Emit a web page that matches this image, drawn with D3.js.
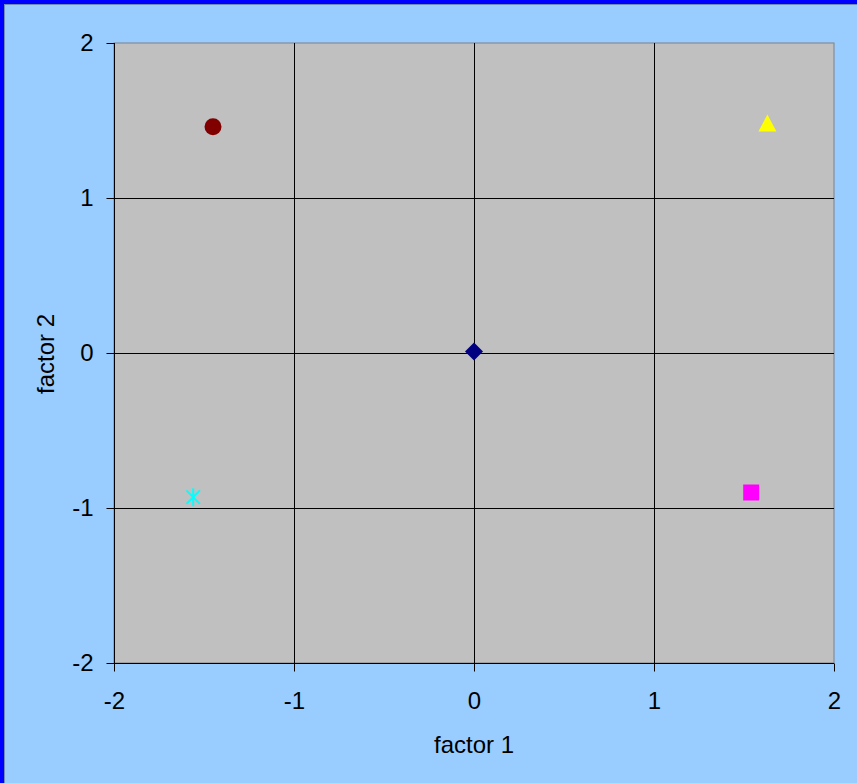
<!DOCTYPE html>
<html>
<head>
<meta charset="utf-8">
<script src="https://cdn.jsdelivr.net/npm/d3@7"></script>
<style>
html,body{margin:0;padding:0;background:#99CCFF;}
svg{display:block;}
text{font-family:"Liberation Sans",Arial,sans-serif;fill:#000;}
</style>
</head>
<body>
<script>
const names = ["center", "A", "B", "C", "D"];
const factor1 = [0, -1.45, 1.63, -1.56, 1.54];
const factor2 = [0.01, 1.46, 1.48, -0.93, -0.90];
const shapes = ["diamond", "circle", "triangle", "star", "square"];
const colors = ["#000080", "#800000", "#FFFF00", "#00FFFF", "#FF00FF"];
const xTicks = [-2, -1, 0, 1, 2];
const yTicks = [-2, -1, 0, 1, 2];

const W = 857, H = 783;
const FS = 24;
const svg = d3.select("body").append("svg").attr("width", W).attr("height", H);
svg.append("rect").attr("width", W).attr("height", H).attr("fill", "#99CCFF");
// frame on left & top
svg.append("rect").attr("x", 0).attr("y", 0).attr("width", 4).attr("height", H).attr("fill", "#0000FF");
svg.append("rect").attr("x", 0).attr("y", 0).attr("width", W).attr("height", 4).attr("fill", "#0000FF");
svg.append("line").attr("x1", 4.5).attr("x2", 4.5).attr("y1", 4).attr("y2", H).attr("stroke", "#6f8fb0").attr("stroke-width", 1);
svg.append("line").attr("x1", 4).attr("x2", W).attr("y1", 4.5).attr("y2", 4.5).attr("stroke", "#6f8fb0").attr("stroke-width", 1);

const L = 114, R = 834, T = 43, B = 663;
const x = d3.scaleLinear().domain([-2, 2]).range([L, R]);
const y = d3.scaleLinear().domain([-2, 2]).range([B, T]);

svg.append("rect").attr("x", L).attr("y", T).attr("width", R - L).attr("height", B - T)
  .attr("fill", "#C0C0C0").attr("stroke", "#808080").attr("stroke-width", 1);

// gridlines
svg.append("g").selectAll("line").data(xTicks.filter(d => d > -2 && d < 2)).join("line")
  .attr("x1", d => Math.round(x(d)) + 0.5).attr("x2", d => Math.round(x(d)) + 0.5)
  .attr("y1", T).attr("y2", B).attr("stroke", "#000").attr("stroke-width", 1);
svg.append("g").selectAll("line").data(yTicks.filter(d => d > -2 && d < 2)).join("line")
  .attr("y1", d => Math.round(y(d)) + 0.5).attr("y2", d => Math.round(y(d)) + 0.5)
  .attr("x1", L).attr("x2", R).attr("stroke", "#000").attr("stroke-width", 1);

// axes
const fmt = d => String(d);
const xAxis = d3.axisBottom(x).tickValues(xTicks).tickSize(8).tickPadding(20).tickFormat(fmt);
const yAxis = d3.axisLeft(y).tickValues(yTicks).tickSize(8).tickPadding(13).tickFormat(fmt);
const gx = svg.append("g").attr("transform", `translate(0,${B + 0.5})`).call(xAxis);
const gy = svg.append("g").attr("transform", `translate(${L + 0.5},0)`).call(yAxis);
[gx, gy].forEach(g => {
  g.select(".domain").attr("stroke", "#000").attr("stroke-width", 1);
  g.selectAll(".tick line").attr("stroke", "#000");
  g.selectAll(".tick text").attr("font-size", FS).attr("font-family", "'Liberation Sans',Arial,sans-serif").attr("fill", "#000");
});
gx.select(".domain").attr("d", `M${L},0H${R}`);
gy.select(".domain").attr("d", `M0,${T}V${B}`);
gx.selectAll(".tick line").attr("y1", 0);
gy.selectAll(".tick line").attr("x1", 0);

svg.append("text").attr("x", 474).attr("y", 753).attr("text-anchor", "middle")
  .attr("font-size", FS).text("factor 1");
svg.append("text").attr("transform", `translate(54,${354}) rotate(-90)`).attr("text-anchor", "middle")
  .attr("font-size", FS).text("factor 2");

// markers
const pts = names.map((n, i) => ({n, x: factor1[i], y: factor2[i], s: shapes[i], c: colors[i]}));
const g = svg.append("g");
pts.forEach(p => {
  const cx = x(p.x), cy = y(p.y);
  if (p.s === "diamond") {
    g.append("path").attr("d", `M${cx},${cy - 9}L${cx + 9},${cy}L${cx},${cy + 9}L${cx - 9},${cy}Z`).attr("fill", p.c);
  } else if (p.s === "circle") {
    g.append("circle").attr("cx", cx).attr("cy", cy).attr("r", 8.5).attr("fill", p.c);
  } else if (p.s === "triangle") {
    g.append("path").attr("d", `M${cx},${cy - 9}L${cx + 9},${cy + 8}L${cx - 9},${cy + 8}Z`).attr("fill", p.c);
  } else if (p.s === "square") {
    g.append("rect").attr("x", cx - 8).attr("y", cy - 8).attr("width", 16).attr("height", 16).attr("fill", p.c);
  } else if (p.s === "star") {
    const r = 9;
    const d = `M${cx - r * 0.75},${cy - r * 0.75}L${cx + r * 0.75},${cy + r * 0.75}M${cx + r * 0.75},${cy - r * 0.75}L${cx - r * 0.75},${cy + r * 0.75}M${cx},${cy - r}L${cx},${cy + r}`;
    g.append("path").attr("d", d).attr("stroke", p.c).attr("stroke-width", 2).attr("fill", "none");
  }
});
</script>
</body>
</html>
